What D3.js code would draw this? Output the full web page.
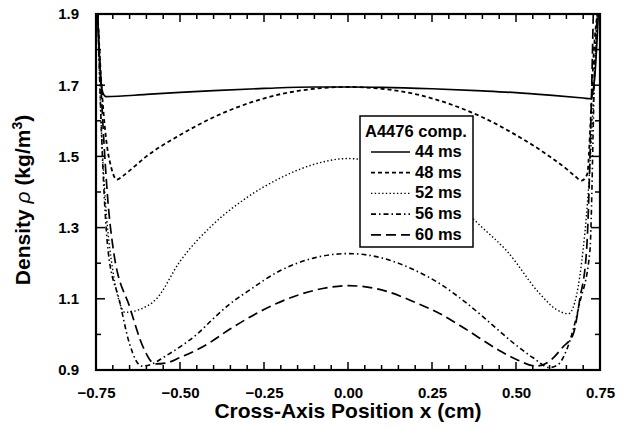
<!DOCTYPE html>
<html>
<head>
<meta charset="utf-8">
<script src="https://cdn.jsdelivr.net/npm/d3@7"></script>
<style>
  body { margin: 0; background: #fff; }
  text { font-family: "Liberation Sans", Arial, sans-serif; font-weight: bold; fill: #000; }
</style>
</head>
<body>
<div id="chart"></div>
<script>
// data: cross-axis position (cm) vs density (kg/m^3)
var x44 = [-0.745, -0.738, -0.73, -0.72, -0.6, -0.5, -0.4, -0.25, -0.1, 0, 0.1, 0.25, 0.4, 0.5, 0.6, 0.7, 0.722, 0.734, 0.745]
var rho44 = [1.9, 1.75, 1.68, 1.668, 1.674, 1.68, 1.685, 1.691, 1.695, 1.695, 1.694, 1.69, 1.684, 1.679, 1.672, 1.664, 1.662, 1.72, 1.9]

var x48 = [-0.745, -0.735, -0.72, -0.705, -0.688, -0.67, -0.65, -0.6, -0.5, -0.4, -0.3, -0.2, -0.1, 0, 0.1, 0.2, 0.3, 0.4, 0.5, 0.6, 0.65, 0.675, 0.695, 0.712, 0.722, 0.732, 0.742]
var rho48 = [1.9, 1.72, 1.55, 1.47, 1.435, 1.445, 1.46, 1.50, 1.56, 1.61, 1.648, 1.675, 1.69, 1.695, 1.69, 1.675, 1.648, 1.61, 1.56, 1.50, 1.465, 1.445, 1.432, 1.45, 1.6, 1.8, 1.9]

var x52 = [-0.745, -0.735, -0.72, -0.7, -0.68, -0.664, -0.62, -0.57, -0.5, -0.4, -0.3, -0.2, -0.1, 0, 0.1, 0.2, 0.3, 0.4, 0.472, 0.571, 0.62, 0.656, 0.675, 0.695, 0.715, 0.73, 0.742]
var rho52 = [1.9, 1.6, 1.35, 1.18, 1.09, 1.062, 1.07, 1.10, 1.205, 1.31, 1.385, 1.44, 1.478, 1.494, 1.478, 1.44, 1.385, 1.30, 1.235, 1.114, 1.07, 1.058, 1.09, 1.2, 1.4, 1.65, 1.9]

var x56 = [-0.745, -0.735, -0.725, -0.714, -0.68, -0.65, -0.614, -0.58, -0.55, -0.5, -0.45, -0.4, -0.351, -0.3, -0.2, -0.1, 0, 0.1, 0.2, 0.274, 0.35, 0.45, 0.5, 0.55, 0.6, 0.625, 0.65, 0.69, 0.72, 0.735, 0.742]
var rho56 = [1.9, 1.6, 1.38, 1.235, 1.094, 0.973, 0.911, 0.918, 0.935, 0.965, 1.0, 1.045, 1.086, 1.12, 1.18, 1.215, 1.227, 1.215, 1.18, 1.142, 1.09, 1.01, 0.97, 0.935, 0.907, 0.915, 0.955, 1.09, 1.235, 1.77, 1.9]

var x60 = [-0.745, -0.73, -0.715, -0.698, -0.649, -0.609, -0.574, -0.54, -0.5, -0.42, -0.351, -0.25, -0.15, -0.05, 0, 0.1, 0.2, 0.274, 0.35, 0.45, 0.5, 0.561, 0.6, 0.64, 0.67, 0.69, 0.71, 0.72, 0.73]
var rho60 = [1.9, 1.6, 1.38, 1.235, 1.075, 0.963, 0.917, 0.92, 0.935, 0.972, 1.015, 1.07, 1.11, 1.133, 1.137, 1.125, 1.09, 1.058, 1.015, 0.955, 0.93, 0.911, 0.925, 0.965, 1.0, 1.1, 1.235, 1.49, 1.9]

var labels = ['44 ms', '48 ms', '52 ms', '56 ms', '60 ms']
var xTickLabels = [-0.75, -0.5, -0.25, 0, 0.25, 0.5, 0.75]
var yTickLabels = [0.9, 1.1, 1.3, 1.5, 1.7, 1.9]

var series = [
  { name: labels[0], x: x44, y: rho44, dash: null, w: 1.7 },
  { name: labels[1], x: x48, y: rho48, dash: '4,3', w: 1.8 },
  { name: labels[2], x: x52, y: rho52, dash: '1.4,2.3', w: 1.4 },
  { name: labels[3], x: x56, y: rho56, dash: '5,3,1.5,3', w: 1.6 },
  { name: labels[4], x: x60, y: rho60, dash: '10,5', w: 1.7 }
]

var width = 635
var height = 429
var mLeft = 96, mRight = 600, mTop = 14, mBottom = 370

var svg = d3.select('#chart')
  .append('svg')
  .attr('width', width)
  .attr('height', height)

var x = d3.scaleLinear().domain([-0.75, 0.75]).range([mLeft, mRight])
var y = d3.scaleLinear().domain([0.9, 1.9]).range([mBottom, mTop])

svg.append('clipPath').attr('id', 'clip')
  .append('rect')
  .attr('x', mLeft).attr('y', mTop)
  .attr('width', mRight - mLeft).attr('height', mBottom - mTop)

// curves
var line = d3.line()
  .x(function (d) { return x(d[0]) })
  .y(function (d) { return y(d[1]) })
  .curve(d3.curveMonotoneX)

var plot = svg.append('g').attr('clip-path', 'url(#clip)')
series.forEach(function (s) {
  plot.append('path')
    .attr('d', line(s.x.map(function (v, i) { return [v, s.y[i]] })))
    .attr('fill', 'none')
    .attr('stroke', '#000')
    .attr('stroke-width', s.w)
    .attr('stroke-dasharray', s.dash)
})

// frame
svg.append('rect')
  .attr('x', mLeft).attr('y', mTop)
  .attr('width', mRight - mLeft).attr('height', mBottom - mTop)
  .attr('fill', 'none')
  .attr('stroke', '#000')
  .attr('stroke-width', 2.2)

// tick labels from the axis generators (no tick lines there)
var fmt = d3.format('.2f')
svg.append('g')
  .attr('transform', 'translate(0,' + mBottom + ')')
  .call(d3.axisBottom(x).tickValues(xTickLabels).tickSize(0).tickPadding(17).tickFormat(fmt))
svg.append('g')
  .attr('transform', 'translate(' + mLeft + ',0)')
  .call(d3.axisLeft(y).tickValues(yTickLabels).tickSize(0).tickPadding(17).tickFormat(d3.format('.1f')))
svg.selectAll('.domain').remove()
svg.selectAll('.tick text').style('font-size', '15px')

// inward ticks on all four sides
var minorX = d3.range(-0.75, 0.7501, 0.05)
var minorY = d3.range(0.9, 1.9001, 0.1)
function isMajorX(v) { return Math.abs(v / 0.25 - Math.round(v / 0.25)) < 1e-6 }
function isMajorY(v) { return Math.abs((v - 0.9) / 0.2 - Math.round((v - 0.9) / 0.2)) < 1e-6 }

var ticks = svg.append('g')
ticks.selectAll('line.xb')
  .data(minorX)
  .enter()
  .append('line')
  .attr('x1', function (d) { return x(d) })
  .attr('x2', function (d) { return x(d) })
  .attr('y1', mBottom)
  .attr('y2', function (d) { return mBottom - (isMajorX(d) ? 8 : 5) })
ticks.selectAll('line.xt')
  .data(minorX)
  .enter()
  .append('line')
  .attr('x1', function (d) { return x(d) })
  .attr('x2', function (d) { return x(d) })
  .attr('y1', mTop)
  .attr('y2', function (d) { return mTop + (isMajorX(d) ? 8 : 5) })
ticks.selectAll('line.yl')
  .data(minorY)
  .enter()
  .append('line')
  .attr('y1', function (d) { return y(d) })
  .attr('y2', function (d) { return y(d) })
  .attr('x1', mLeft)
  .attr('x2', function (d) { return mLeft + (isMajorY(d) ? 9 : 5) })
ticks.selectAll('line.yr')
  .data(minorY)
  .enter()
  .append('line')
  .attr('y1', function (d) { return y(d) })
  .attr('y2', function (d) { return y(d) })
  .attr('x1', mRight)
  .attr('x2', function (d) { return mRight - (isMajorY(d) ? 9 : 5) })
ticks.selectAll('line')
  .attr('stroke', '#000')
  .attr('stroke-width', 1.5)

// legend
var legend = svg.append('g')
legend.append('rect')
  .attr('x', 360).attr('y', 116)
  .attr('width', 113).attr('height', 131)
  .attr('fill', '#fff')
  .attr('stroke', '#000')
  .attr('stroke-width', 1.5)
legend.append('text')
  .attr('x', 365).attr('y', 137)
  .style('font-size', '16.5px')
  .text('A4476 comp.')
legend.selectAll('line.key')
  .data(series)
  .enter()
  .append('line')
  .attr('x1', 371).attr('x2', 410)
  .attr('y1', function (d, i) { return 152 + i * 20.7 })
  .attr('y2', function (d, i) { return 152 + i * 20.7 })
  .attr('stroke', '#000')
  .attr('stroke-width', function (d) { return d.w })
  .attr('stroke-dasharray', function (d) { return d.dash })
legend.selectAll('text.key')
  .data(series)
  .enter()
  .append('text')
  .attr('x', 415)
  .attr('y', function (d, i) { return 157 + i * 20.7 })
  .style('font-size', '16.5px')
  .text(function (d) { return d.name })

// axis titles
svg.append('text')
  .attr('x', (mLeft + mRight) / 2)
  .attr('y', 418)
  .attr('text-anchor', 'middle')
  .style('font-size', '21px')
  .text('Cross-Axis Position x (cm)')

var ylab = svg.append('text')
  .attr('transform', 'translate(30,' + 200 + ') rotate(-90)')
  .attr('text-anchor', 'middle')
  .style('font-size', '21px')
ylab.append('tspan').text('Density ')
ylab.append('tspan').style('font-style', 'italic').style('font-weight', 'normal').text('ρ')
ylab.append('tspan').text(' (kg/m')
ylab.append('tspan').attr('dy', -8).style('font-size', '14px').text('3')
ylab.append('tspan').attr('dy', 8).text(')')
</script>
</body>
</html>
